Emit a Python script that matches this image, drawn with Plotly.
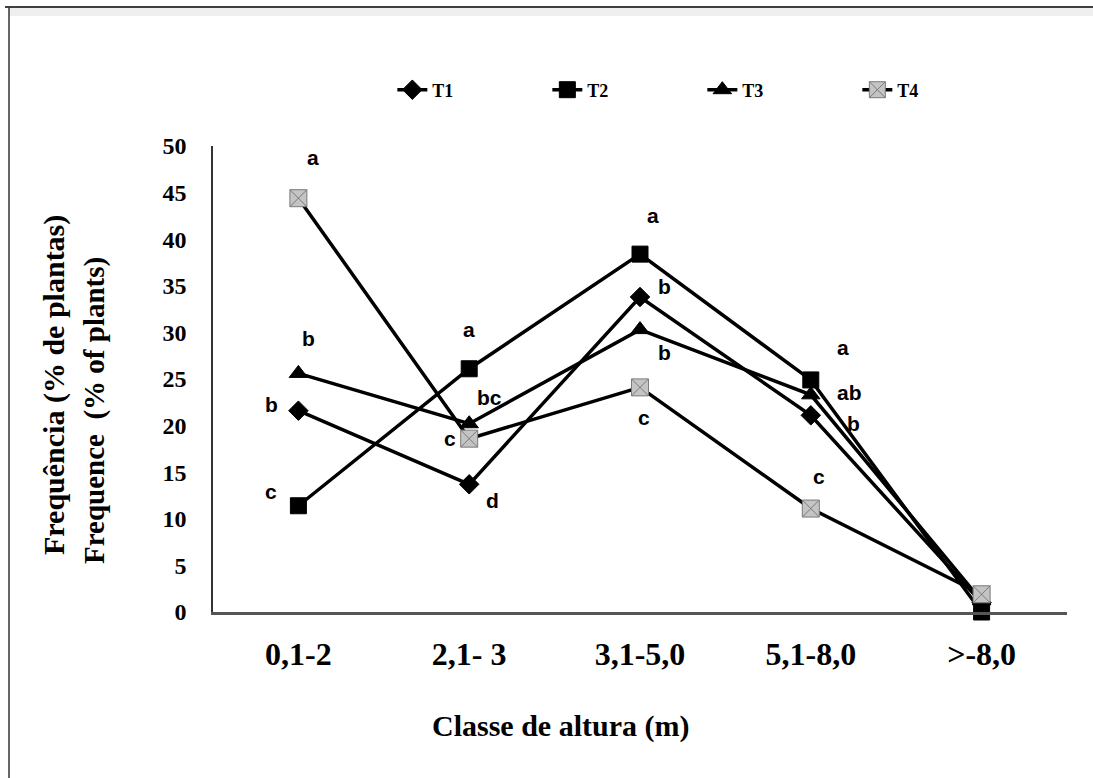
import plotly.graph_objects as go

categories = ["0,1-2", "2,1- 3", "3,1-5,0", "5,1-8,0", ">-8,0"]

series_names = ["T1", "T2", "T3", "T4"]
t1_values = [21.6, 13.7, 33.8, 21.1, 1.0]   # diamonds
t2_values = [11.4, 26.1, 38.4, 24.9, 0.0]   # squares
t3_values = [25.6, 20.2, 30.3, 23.3, 1.2]   # triangles
t4_values = [44.4, 18.6, 24.1, 11.1, 1.9]   # grey squares with X

t1_letters = ["b", "d", "b", "b", ""]
t2_letters = ["c", "a", "a", "a", ""]
t3_letters = ["b", "bc", "b", "ab", ""]
t4_letters = ["a", "c", "c", "c", ""]

y_ticks = [0, 5, 10, 15, 20, 25, 30, 35, 40, 45, 50]

# label offsets (pixels) relative to the marker, style only
t1_off = [(-27, 6), (23, -16), (24, 10), (43, -8), (0, 0)]
t2_off = [(-27, 14), (0, 39), (13, 39), (32, 32), (0, 0)]
t3_off = [(10, 35), (20, 26), (24, -23), (39, 2), (0, 0)]
t4_off = [(15, 41), (-19, 0), (4, -30), (8, 32), (0, 0)]

fig = go.Figure()

styles = [
    dict(symbol="diamond", size=15, color="black", line=dict(color="black", width=1)),
    dict(symbol="square", size=16, color="black", line=dict(color="black", width=1)),
    dict(symbol="triangle-up", size=16, color="black", line=dict(color="black", width=1)),
    dict(symbol="square-x", size=17, color="#c4c4c4", line=dict(color="#7a7a7a", width=1)),
]
all_vals = [t1_values, t2_values, t3_values, t4_values]
all_letters = [t1_letters, t2_letters, t3_letters, t4_letters]
all_offs = [t1_off, t2_off, t3_off, t4_off]

for name, vals, st in zip(series_names, all_vals, styles):
    fig.add_trace(go.Scatter(
        x=categories, y=vals, name=name, mode="lines+markers",
        line=dict(color="black", width=3.5),
        marker=st, cliponaxis=False,
    ))

annotations = []
for vals, letters, offs in zip(all_vals, all_letters, all_offs):
    for c, v, l, (dx, dy) in zip(categories, vals, letters, offs):
        if l:
            annotations.append(dict(
                x=c, y=v, xref="x", yref="y", text=l, showarrow=False,
                xshift=dx, yshift=dy,
                font=dict(family="Liberation Sans", size=21, color="black", weight="bold"),
            ))

serif = "Liberation Serif"
annotations += [
    dict(x=(54 - 213) / 854, y=(612 - 385) / 466, xref="paper", yref="paper",
         text="Frequência (% de plantas)", textangle=-90, showarrow=False,
         xanchor="center", yanchor="middle",
         font=dict(family=serif, size=30, color="black", weight="bold")),
    dict(x=(94 - 213) / 854, y=(612 - 411) / 466, xref="paper", yref="paper",
         text="Frequence  (% of plants)", textangle=-90, showarrow=False,
         xanchor="center", yanchor="middle",
         font=dict(family=serif, size=29, color="black", weight="bold")),
    dict(x=(560 - 213) / 854, y=(612 - 726) / 466, xref="paper", yref="paper",
         text="Classe de altura (m)", showarrow=False,
         xanchor="center", yanchor="middle",
         font=dict(family=serif, size=30, color="black", weight="bold")),
]

shapes = [
    dict(type="rect", xref="paper", yref="paper",
         x0=(9 - 213) / 854, x1=(1093 - 213) / 854,
         y0=(612 - 16) / 466, y1=(612 - 8) / 466,
         fillcolor="#efefef", line=dict(width=0), layer="below"),
    dict(type="line", xref="paper", yref="paper",
         x0=(5 - 213) / 854, x1=(1093 - 213) / 854,
         y0=(612 - 7) / 466, y1=(612 - 7) / 466,
         line=dict(color="black", width=1.5)),
    dict(type="line", xref="paper", yref="paper",
         x0=(9 - 213) / 854, x1=(9 - 213) / 854,
         y0=(612 - 7) / 466, y1=(612 - 778) / 466,
         line=dict(color="#333333", width=1.5)),
]

fig.update_layout(
    width=1093, height=778,
    margin=dict(l=213, r=26, t=146, b=166),
    paper_bgcolor="white", plot_bgcolor="white",
    showlegend=True,
    legend=dict(orientation="h", x=0.21, y=(612 - 90) / 466,
                xanchor="left", yanchor="middle",
                font=dict(family=serif, size=18, color="black", weight="bold"),
                entrywidth=110, entrywidthmode="pixels",
                bgcolor="rgba(0,0,0,0)"),
    annotations=annotations,
    shapes=shapes,
)

fig.update_xaxes(
    type="category", range=[-0.5, 4.5], showgrid=False, zeroline=False,
    showline=True, linecolor="#555555", linewidth=2.5,
    ticks="", ticklabelstandoff=12,
    tickfont=dict(family=serif, size=32, color="black", weight="bold"),
)
fig.update_yaxes(
    range=[0, 50], tickvals=y_ticks, showgrid=False, zeroline=False,
    showline=True, linecolor="#333333", linewidth=1.5,
    ticks="", ticklabelstandoff=20,
    tickfont=dict(family=serif, size=24, color="black", weight="bold"),
)

fig.write_html("out.html", config={"displayModeBar": False},
               post_script="document.body.style.margin='0';document.body.style.overflow='hidden';")
